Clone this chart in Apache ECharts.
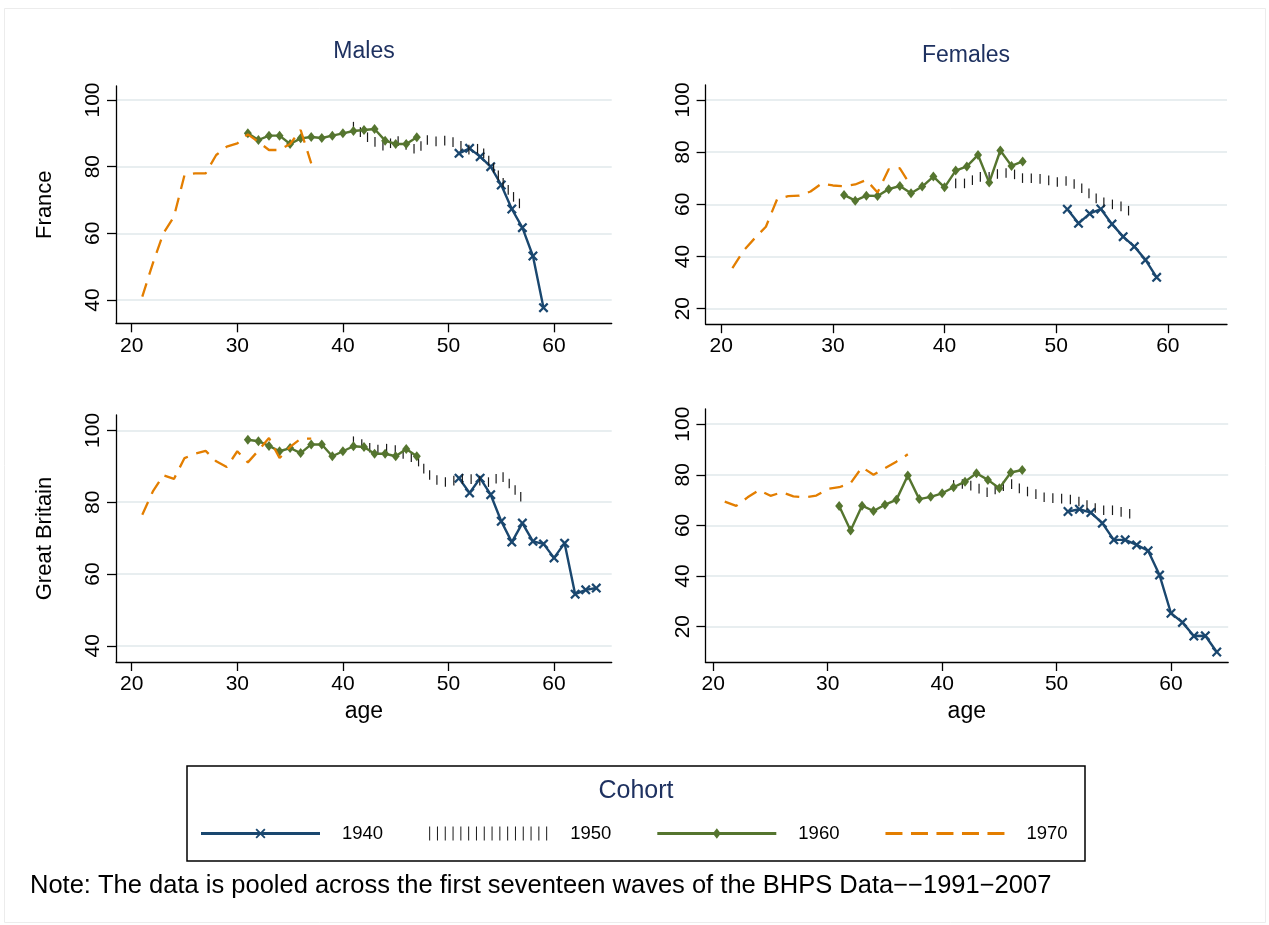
<!DOCTYPE html>
<html><head><meta charset="utf-8">
<script src="https://cdn.jsdelivr.net/npm/echarts@6/dist/echarts.min.js"></script>
<style>html,body{margin:0;padding:0;background:#fff}#c{width:1269px;height:925px}</style>
</head><body><div id="c"></div>
<script>
// ---------- DATA ----------
const ages1940FR = [51,52,53,54,55,56,57,58,59];
const ages1940GB = [51,52,53,54,55,56,57,58,59,60,61,62,63,64];
const ages1950 = [41,42,43,44,45,46,47,48,49,50,51,52,53,54,55,56,57];
const ages1960 = [31,32,33,34,35,36,37,38,39,40,41,42,43,44,45,46,47];
const ages1970 = [21,22,23,24,25,26,27,28,29,30,31,32,33,34,35,36,37];

const frM1940 = [84, 85.5, 83, 80, 74.5, 67.3, 61.7, 53.2, 37.7];
const frM1950 = [92, 89.5, 87.5, 86, 88, 86.5, 85, 88, 87.5, 88, 86.5, 85, 85.5, 81, 76, 71.5, 68];
const frM1960 = [90, 88, 89.3, 89.3, 86.8, 88.5, 88.9, 88.6, 89.3, 90, 90.7, 91, 91.3, 87.8, 86.8, 86.8, 88.8];
const frM1970 = [41, 51, 60, 65, 77.5, 78, 78, 83.5, 86, 87, 89.7, 87.4, 85, 85, 86.8, 91, 81];

const frF1940 = [58.1, 52.7, 56.4, 58.2, 52.4, 47.6, 43.8, 38.7, 32.0];
const frF1950 = [68, 68, 70.5, 70.5, 72, 72, 70, 70, 69.5, 68.5, 69, 67, 64, 61, 60, 59, 56];
const frF1960 = [63.6, 61.4, 63.3, 63.2, 65.8, 67, 64.2, 66.8, 70.6, 66.5, 72.9, 74.5, 78.9, 68.3, 80.6, 74.7, 76.4];
const frF1970 = [35.5, 42.2, 47, 51.4, 61.9, 63.1, 63.3, 64.9, 68, 67.2, 66.9, 67.6, 69.3, 64.5, 73.4, 73.8, 67];

const gbM1940 = [86.7, 82.6, 86.7, 82.1, 74.7, 68.9, 74.2, 69.1, 68.4, 64.5, 68.6, 54.4, 55.6, 56.1];
const gbM1950 = [97, 96, 94.5, 95, 94.5, 93, 92, 88, 86, 85.5, 86.5, 86.5, 86, 85.5, 87.5, 84.5, 81];
const gbM1960 = [97.4, 97, 95.7, 94.2, 95.1, 93.7, 96.1, 96.1, 92.8, 94.2, 95.6, 95.4, 93.5, 93.5, 92.8, 94.8, 92.8];
const gbM1970 = [76.5, 83, 87.5, 86.5, 92.3, 93.5, 94.3, 91.4, 89.8, 94.2, 91.1, 94.4, 97.9, 92.3, 95.4, 97.7, 97.7];

const gbF1940 = [65.5, 66.4, 65.1, 60.9, 54.3, 54.3, 52.3, 50, 40.4, 25.3, 21.7, 16.3, 16.4, 10];
const gbF1950 = [76, 76.5, 75, 73, 75, 76.5, 74, 72.7, 71, 70.7, 70.5, 69.4, 67.4, 66, 66, 65, 64];
const gbF1960 = [67.7, 58, 67.8, 65.7, 68.2, 70.1, 79.7, 70.4, 71.3, 72.7, 75.1, 77.3, 80.6, 78, 74.7, 80.9, 81.9];
const gbF1970 = [69.4, 67.7, 71.1, 74, 71.7, 73.1, 71.5, 71.1, 71.8, 74.4, 75.1, 76.7, 83, 80, 82.6, 85.2, 88.1];

const xTicks = [20, 30, 40, 50, 60];
const yTicksMale = [40, 60, 80, 100];
const yTicksFemale = [20, 40, 60, 80, 100];
const cohortNames = ['1940', '1950', '1960', '1970'];
const panelTitles = ['Males', 'Females'];
const rowTitles = ['France', 'Great Britain'];
const xTitle = 'age';
const legendTitle = 'Cohort';
const noteText = 'Note: The data is pooled across the first seventeen waves of the BHPS Data\u2212\u22121991\u22122007';

// ---------- LAYOUT / STYLE ----------
const FF = '"Liberation Sans", Arial, Helvetica, sans-serif';
const NAVY = '#1a476f', GREEN = '#55752f', ORANGE = '#e37e00', TICKC = '#1a1a1a', TITLEC = '#1e3160';
const panels = [
  {left:116,   top:86,  width:495.7, height:237.3, xmin:18.51, xmax:65.46, ymin:33.0,  ymax:104.2, yt:yTicksMale,   name:rowTitles[0], xname:''},
  {left:705.6, top:85,  width:521.4, height:239.2, xmin:18.6,  xmax:65.3,  ymin:14.06, ymax:105.7, yt:yTicksFemale, name:'',           xname:''},
  {left:116,   top:415, width:495.7, height:247,   xmin:18.51, xmax:65.46, ymin:35.5,  ymax:104.3, yt:yTicksMale,   name:rowTitles[1], xname:xTitle},
  {left:705.4, top:409, width:522.8, height:253,   xmin:19.31, xmax:65.0,  ymin:6.05,  ymax:106.0, yt:yTicksFemale, name:'',           xname:xTitle}
];

const xSymbol = 'path://M0,1.6 L1.6,0 L5,3.4 L8.4,0 L10,1.6 L6.6,5 L10,8.4 L8.4,10 L5,6.6 L1.6,10 L0,8.4 L3.4,5 Z';

function zip(a, b) { return a.map((v, i) => [v, b[i]]); }

function tickRender(ages, vals) {
  return function (params, api) {
    const i = params.dataIndex;
    if (i === 0) return null;
    const SP = 8.8, H = 4.8;
    let acc = 0;
    for (let k = 1; k < i; k++) {
      const a = api.coord([ages[k - 1], vals[k - 1]]), b = api.coord([ages[k], vals[k]]);
      acc += Math.hypot(b[0] - a[0], b[1] - a[1]);
    }
    const p0 = api.coord([ages[i - 1], vals[i - 1]]), p1 = api.coord([ages[i], vals[i]]);
    const L = Math.hypot(p1[0] - p0[0], p1[1] - p0[1]);
    const children = [];
    let t = (SP - (acc % SP)) % SP;
    for (; t < L; t += SP) {
      const f = t / L;
      const x = p0[0] + f * (p1[0] - p0[0]);
      const y = p0[1] + f * (p1[1] - p0[1]);
      children.push({type: 'line', shape: {x1: x, y1: y - H, x2: x, y2: y + H},
        style: {stroke: TICKC, lineWidth: 1.2}});
    }
    return {type: 'group', children: children};
  };
}

const panelData = [
  [frM1940, frM1950, frM1960, frM1970, ages1940FR],
  [frF1940, frF1950, frF1960, frF1970, ages1940FR],
  [gbM1940, gbM1950, gbM1960, gbM1970, ages1940GB],
  [gbF1940, gbF1950, gbF1960, gbF1970, ages1940GB]
];

const grids = [], xAxes = [], yAxes = [], series = [];
panels.forEach((p, gi) => {
  grids.push({left: p.left, top: p.top, width: p.width, height: p.height, containLabel: false});
  xAxes.push({type: 'value', gridIndex: gi, min: p.xmin, max: p.xmax,
    name: p.xname, nameLocation: 'middle', nameGap: 38,
    nameTextStyle: {fontSize: 23, color: '#000', fontFamily: FF},
    axisLine: {show: true, onZero: false, lineStyle: {color: '#000', width: 1.3}},
    axisTick: {show: true, length: 9, customValues: xTicks, lineStyle: {color: '#000', width: 1.3}},
    axisLabel: {customValues: xTicks, fontSize: 21, color: '#000', margin: 12, fontFamily: FF},
    splitLine: {show: false}});
  yAxes.push({type: 'value', gridIndex: gi, min: p.ymin, max: p.ymax,
    name: p.name, nameLocation: 'middle', nameGap: 60,
    nameTextStyle: {fontSize: 22, color: '#000', fontFamily: FF},
    axisLine: {show: true, onZero: false, lineStyle: {color: '#000', width: 1.3}},
    axisTick: {show: true, length: 9, customValues: p.yt, lineStyle: {color: '#000', width: 1.3}},
    axisLabel: {customValues: p.yt, rotate: 90, fontSize: 21, color: '#000', margin: 12, fontFamily: FF},
    splitLine: {show: true, lineStyle: {color: '#e8eef0', width: 2}}});
  const d = panelData[gi];
  series.push({type: 'line', name: cohortNames[0], xAxisIndex: gi, yAxisIndex: gi,
    data: zip(d[4], d[0]), symbol: xSymbol, symbolSize: 10, showSymbol: true,
    lineStyle: {color: NAVY, width: 2.4}, itemStyle: {color: NAVY}, animation: false, z: 2});
  series.push({type: 'custom', name: cohortNames[1], xAxisIndex: gi, yAxisIndex: gi,
    coordinateSystem: 'cartesian2d', data: zip(ages1950, d[1]),
    renderItem: tickRender(ages1950, d[1]), itemStyle: {color: TICKC}, animation: false, z: 3});
  series.push({type: 'line', name: cohortNames[2], xAxisIndex: gi, yAxisIndex: gi,
    data: zip(ages1960, d[2]), symbol: 'diamond', symbolSize: [8, 10], showSymbol: true,
    lineStyle: {color: GREEN, width: 2.4}, itemStyle: {color: GREEN}, animation: false, z: 4});
  series.push({type: 'line', name: cohortNames[3], xAxisIndex: gi, yAxisIndex: gi,
    data: zip(ages1970, d[3]), symbol: 'none', showSymbol: false,
    lineStyle: {color: ORANGE, width: 2.3, type: [14, 9]}, itemStyle: {color: ORANGE}, animation: false, z: 5});
});

// legend icons (119 x 14 box)
const corners = 'M0,0 L0.01,0 L0,0.01 Z M119,14 L118.99,14 L119,13.99 Z ';
const icon1940 = 'path://' + corners + 'M0,5.6 h119 v2.8 h-119 Z M54.5,3.3 L55.8,2 L59.5,5.7 L63.2,2 L64.5,3.3 L60.8,7 L64.5,10.7 L63.2,12 L59.5,8.3 L55.8,12 L54.5,10.7 L58.2,7 Z';
let bars = '';
for (let k = 0; k < 16; k++) { const x = (k * 7.8).toFixed(2); bars += 'M' + x + ',0 h1 v14 h-1 Z '; }
const icon1950 = 'path://' + corners + bars;
const icon1960 = 'path://' + corners + 'M0,5.6 h119 v2.8 h-119 Z M59.5,1.8 L63.5,7 L59.5,12.2 L55.5,7 Z';
let dashes = '';
for (let k = 0; k < 5; k++) { const x = (k * 25.5).toFixed(2); dashes += 'M' + x + ',5.6 h17 v2.8 h-17 Z '; }
const icon1970 = 'path://' + corners + dashes;

const chart = echarts.init(document.getElementById('c'), null, {renderer: 'canvas'});
chart.setOption({
  backgroundColor: '#fff',
  animation: false,
  grid: grids, xAxis: xAxes, yAxis: yAxes, series: series,
  legend: {
    left: 201, top: 824, padding: 0, itemWidth: 119, itemHeight: 14, itemGap: 46,
    symbolKeepAspect: false, selectedMode: false,
    itemStyle: {borderWidth: 0},
    textStyle: {fontSize: 18.5, color: '#000', fontFamily: FF, padding: [0, 0, 0, 17]},
    data: [
      {name: cohortNames[0], icon: icon1940},
      {name: cohortNames[1], icon: icon1950},
      {name: cohortNames[2], icon: icon1960},
      {name: cohortNames[3], icon: icon1970}
    ]
  },
  graphic: [
    {type: 'rect', shape: {x: 4.5, y: 8.5, width: 1261, height: 914}, style: {fill: 'none', stroke: '#ececec', lineWidth: 1}, silent: true},
    {type: 'text', x: 364, y: 52, style: {text: panelTitles[0], fill: TITLEC, font: '23px ' + FF, align: 'center', verticalAlign: 'middle'}},
    {type: 'text', x: 966, y: 56, style: {text: panelTitles[1], fill: TITLEC, font: '23px ' + FF, align: 'center', verticalAlign: 'middle'}},
    {type: 'rect', shape: {x: 187, y: 766, width: 898, height: 95}, style: {fill: 'none', stroke: '#000', lineWidth: 1.5}, silent: true},
    {type: 'text', x: 636, y: 791, style: {text: legendTitle, fill: TITLEC, font: '25px ' + FF, align: 'center', verticalAlign: 'middle'}},
    {type: 'text', x: 30, y: 886, style: {text: noteText, fill: '#000', font: '25.5px ' + FF, align: 'left', verticalAlign: 'middle'}}
  ]
});
</script></body></html>
